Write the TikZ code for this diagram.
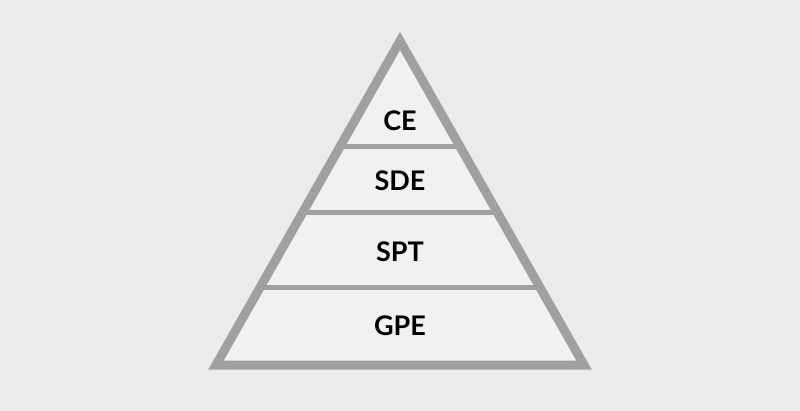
\documentclass[tikz,border=0pt]{standalone}
\usepackage{fontspec}
\setmainfont{Lato}
\usetikzlibrary{calc}

\definecolor{bggray}{HTML}{EBEBEB}
\definecolor{ingray}{HTML}{F1F1F1}
\definecolor{edgegray}{HTML}{A0A0A0}

\begin{document}
\begin{tikzpicture}[x=1pt,y=-1pt,line join=miter,every node/.style={font=\fontsize{27}{30}\selectfont\bfseries}]
  \fill[bggray] (0,0) rectangle (800,411);
  \useasboundingbox (0,0) rectangle (800,411);
  \coordinate (T) at (400,41);
  \coordinate (L) at (216,365);
  \coordinate (R) at (584,365);
  \fill[ingray] (T) -- (L) -- (R) -- cycle;
  % layer lines
  \coordinate (L1) at ($(T)!0.3256!(L)$);
  \coordinate (R1) at ($(T)!0.3256!(R)$);
  \coordinate (L2) at ($(T)!0.529!(L)$);
  \coordinate (R2) at ($(T)!0.529!(R)$);
  \coordinate (L3) at ($(T)!0.761!(L)$);
  \coordinate (R3) at ($(T)!0.761!(R)$);
  \draw[edgegray,line width=5pt] (L1) -- (R1);
  \draw[edgegray,line width=5pt] (L2) -- (R2);
  \draw[edgegray,line width=5pt] (L3) -- (R3);
  \draw[edgegray,line width=9pt] (T) -- (L) -- (R) -- cycle;
  \node (CE) at (400,121) {CE};
  \node (SDE) at (400,181) {SDE};
  \node (SPT) at (400,252) {SPT};
  \node (GPE) at (400,326) {GPE};
\end{tikzpicture}
\end{document}
